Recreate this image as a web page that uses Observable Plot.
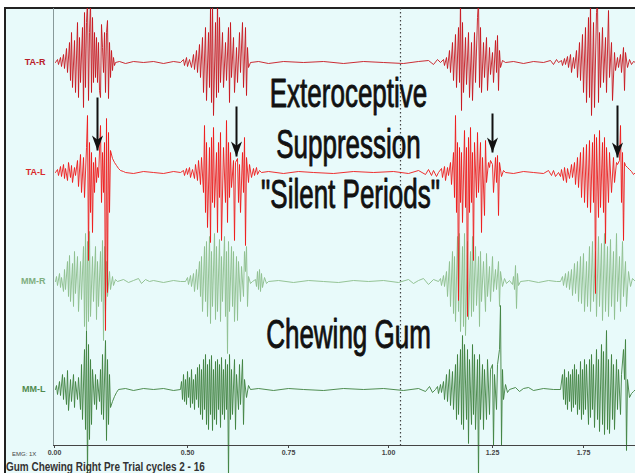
<!DOCTYPE html>
<html>
<head>
<meta charset="utf-8">
<script src="https://cdn.jsdelivr.net/npm/d3@7"></script>
<script src="https://cdn.jsdelivr.net/npm/@observablehq/plot@0.6"></script>
<style>
  html, body { margin: 0; padding: 0; background: #ffffff; width: 635px; height: 473px; overflow: hidden; }
  #frame { position: absolute; left: 4px; top: 7px; width: 631px; height: 466px; background: #e8fafa;
           border-top: 2px solid #222; border-left: 2px solid #222; box-sizing: border-box; }
  #chart { position: absolute; left: 0; top: 0; }
  #emg { position: absolute; left: 12px; top: 451px; font: 6px "Liberation Sans", Arial, sans-serif; color: #444; }
  #caption { position: absolute; left: 6px; top: 460px; font: bold 12px "Liberation Sans", Arial, sans-serif;
             color: #333; white-space: nowrap; transform: scaleX(0.83); transform-origin: left top; }
</style>
</head>
<body>
<div id="frame"></div>
<div id="chart"></div>
<div id="emg">EMG: 1X</div>
<div id="caption">Gum Chewing Right Pre Trial cycles 2 - 16</div>
<script>
// ---- channels (name, vertical offset of baseline in µV-units, colour) ----
const channelNames = ["TA-R", "TA-L", "MM-R", "MM-L"];
const channelOffsets = [383, 273, 164, 56];

// ---- x axis ticks (sample units) and their printed labels ----
const tickPos = [1, 134, 235, 335, 439, 530];
const tickLabels = ["0.00", "0.50", "0.75", "1.00", "1.25", "1.75"];
const cursorPos = [347];

// ---- EMG traces: [sample, amplitude] ----
const TA_R = [
 [2,0],[4,3],[5,-2],[7,5],[8,-4],[10,8],[11,-6],[13,14],[14,-10],[16,20],[17,-18],[18,30],[19,-25],[21,22],[22,-30],[24,40],[25,-35],[26,25],[27,-20],[29,35],[30,-45],[31,50],[32,-25],[33,40],[34,62],[35,-38],[36,30],[37,62],[38,-30],[39,45],[40,-20],[41,30],[42,-15],[43,25],[44,-20],[45,20],[46,-28],[47,-35],[48,38],[49,15],[50,-10],[51,30],[52,-30],[53,30],[54,42],[55,-36],[56,20],[57,-15],[58,12],[59,-8],[60,5],[61,-3],[62,0],
 [66,1],[72,-1],[80,1],[90,0],[100,1],[110,-1],[120,1],[127,0],
 [130,3],[131,-3],[133,5],[134,-4],[136,3],[138,-5],[140,8],[141,-7],[143,12],[144,-10],[146,18],[147,-15],[149,25],[150,-30],[152,35],[153,-38],[155,30],[156,-25],[157,54],[158,-40],[159,62],[160,-53],[162,40],[163,-35],[164,62],[165,-30],[166,45],[167,-20],[169,30],[170,-25],[172,20],[173,-18],[175,35],[176,-40],[177,40],[178,-15],[180,25],[181,-30],[183,15],[184,-20],[186,30],[187,-10],[189,40],[190,-25],[192,35],[193,-33],[194,15],[195,-5],[197,0],
 [205,1],[215,-1],[230,1],[250,0],[270,1],[290,-1],[310,1],[330,0],[350,-1],[365,1],[375,2],[380,-2],[384,3],[387,0],
 [390,3],[391,-3],[393,5],[394,-6],[396,12],[397,-10],[399,20],[400,-18],[402,28],[403,-25],[405,35],[406,-20],[407,62],[408,-48],[409,40],[410,-30],[412,25],[413,-22],[415,30],[416,-35],[418,20],[419,-38],[421,30],[422,-20],[424,45],[425,62],[426,-25],[427,35],[428,-30],[430,20],[431,-15],[433,25],[434,-28],[436,15],[437,-12],[439,10],[440,-20],[442,22],[443,-10],[444,27],[445,-28],[446,12],[447,-5],[449,2],[452,0],
 [460,1],[470,-1],[480,1],[490,0],[497,2],[500,-2],[503,3],[505,0],
 [508,2],[509,-3],[511,4],[512,-2],[514,6],[515,-5],[517,8],[518,-10],[520,5],[521,-6],[523,12],[524,-15],[526,20],[527,-18],[529,28],[530,-30],[532,35],[533,-40],[535,45],[536,-35],[537,62],[538,-53],[540,40],[541,-45],[543,50],[544,62],[545,-40],[546,30],[547,-25],[549,35],[550,-20],[552,25],[553,-30],[555,52],[556,-15],[558,20],[559,-38],[561,10],[562,-8],[564,5],[565,-5],[567,8],[568,-10],[570,15],[571,-28],[572,10],[574,-5],[576,3],[578,-2],[580,1],[582,0]
];
const TA_L = [
 [2,0],[4,3],[5,-3],[7,6],[8,-4],[10,8],[11,-6],[12,4],[14,-8],[15,10],[17,-5],[18,7],[19,-10],[21,5],[22,-3],[24,12],[25,-14],[27,18],[28,-20],[30,15],[31,-25],[33,25],[34,57],[35,-88],[36,30],[37,-40],[38,20],[39,-60],[40,10],[41,-20],[42,15],[43,-10],[44,5],[45,-5],[47,47],[48,-30],[49,20],[50,-20],[51,30],[52,-158],[53,54],[54,-120],[55,40],[56,-40],[57,22],[59,14],[61,10],[63,7],[65,4],[67,2],[70,1],[72,0],
 [80,-1],[90,1],[100,0],[110,-1],[120,1],[127,0],
 [130,2],[131,-3],[133,4],[134,-2],[136,5],[137,-5],[139,3],[141,-6],[142,8],[144,-8],[145,12],[147,-12],[148,15],[150,-20],[151,47],[152,-40],[153,30],[154,-55],[156,25],[157,-70],[158,35],[159,-30],[160,45],[161,-35],[163,20],[164,-60],[165,30],[166,-25],[167,40],[168,-68],[170,25],[172,-30],[173,52],[174,-50],[175,30],[176,-25],[177,20],[178,-15],[180,12],[181,-68],[182,10],[184,14],[185,-30],[186,8],[187,-40],[189,20],[190,-20],[191,35],[192,-73],[193,15],[195,-10],[196,8],[198,-5],[200,4],[201,-3],[203,5],[204,-2],[206,2],[208,0],
 [215,1],[230,-1],[245,1],[260,0],[280,-1],[300,1],[320,0],[340,1],[355,-1],[365,2],[372,-2],[375,3],[378,-3],[380,2],[383,-4],[385,0],
 [388,4],[389,-5],[391,6],[392,-8],[394,5],[395,-3],[397,10],[398,-12],[400,20],[401,-25],[402,57],[403,-40],[404,30],[405,-128],[406,25],[407,-30],[408,20],[409,-50],[411,42],[412,-35],[413,25],[414,-144],[415,35],[416,-40],[417,45],[418,-30],[419,20],[420,-88],[421,30],[423,-25],[424,40],[425,-20],[427,30],[428,-60],[429,15],[431,-43],[432,32],[433,-10],[435,10],[436,5],[437,12],[439,8],[440,-20],[442,15],[443,-10],[444,17],[445,-43],[446,10],[448,-4],[450,2],[452,0],
 [460,-1],[470,1],[480,0],[490,-1],[495,2],[498,-3],[500,2],[502,-4],[505,0],
 [507,-4],[508,3],[510,-8],[511,5],[513,-10],[514,4],[516,-6],[518,8],[519,-5],[521,10],[522,-12],[524,15],[525,-15],[527,20],[528,-25],[530,25],[531,-30],[533,28],[534,-35],[536,32],[537,-40],[539,30],[540,-30],[541,38],[542,-121],[543,35],[545,-45],[546,42],[547,-35],[549,30],[550,-40],[551,35],[552,-71],[553,25],[555,-30],[556,20],[558,-20],[560,15],[561,-10],[563,10],[564,8],[566,12],[567,47],[568,-30],[569,20],[570,-68],[571,10],[572,7],[574,5],[576,3],[578,1],[580,-2],[582,0]
];
const MM_R = [
 [2,0],[3,5],[4,-4],[6,8],[7,-6],[8,4],[10,-10],[11,12],[12,-8],[14,20],[15,-15],[16,26],[17,-20],[19,18],[20,-25],[21,30],[22,-12],[24,25],[25,-30],[27,20],[28,-18],[30,35],[31,-45],[32,48],[33,-49],[34,40],[35,-40],[36,50],[37,-35],[39,25],[40,-20],[42,35],[43,-38],[44,20],[45,-25],[47,30],[48,-20],[49,41],[50,-59],[51,35],[52,-30],[53,20],[54,-15],[56,10],[57,-8],[59,5],[60,-4],[62,2],[64,0],
 [70,2],[75,-1],[80,1],[85,3],[88,-2],[92,2],[96,0],[100,1],[110,-1],[120,1],[127,0],[132,0],
 [134,4],[135,-3],[137,6],[138,-5],[140,8],[141,-10],[143,12],[144,-8],[146,20],[147,-15],[148,25],[149,-30],[151,35],[152,-20],[153,40],[154,-35],[156,45],[157,-42],[158,30],[159,-25],[161,48],[162,-38],[163,35],[164,-30],[166,42],[167,-40],[168,25],[169,-20],[171,45],[172,-35],[173,30],[174,-72],[175,40],[176,-30],[178,35],[179,-25],[180,30],[181,-40],[183,25],[184,-39],[185,20],[187,-20],[188,15],[190,-15],[191,30],[192,10],[193,35],[194,-25],[195,5],[197,-2],[199,0],[202,2],[203,-5],[204,10],[205,-8],[206,12],[207,-10],[208,8],[209,-6],[211,4],[213,-2],[215,0],
 [225,1],[240,-1],[255,1],[270,0],[285,-1],[300,1],[315,0],[330,1],[345,-1],[355,2],[360,-2],[365,1],[370,3],[375,-3],[380,2],[385,0],
 [387,3],[388,-4],[390,6],[391,-5],[393,10],[394,-15],[396,20],[397,-25],[399,30],[400,-32],[401,25],[402,-40],[404,45],[405,-30],[406,48],[407,-50],[409,35],[410,-45],[411,48],[412,-54],[414,40],[415,-38],[417,30],[418,-35],[419,45],[420,-30],[422,35],[423,-24],[425,25],[426,-45],[427,30],[428,-20],[430,20],[432,-30],[433,28],[434,-15],[436,15],[437,-20],[439,25],[440,-10],[442,12],[443,-8],[445,20],[446,-25],[447,10],[449,-5],[451,3],[453,-2],[456,1],[459,-3],[460,5],[461,-8],[462,16],[463,-27],[464,8],[465,-4],[467,0],
 [475,1],[485,-1],[495,1],[503,0],[507,0],
 [509,5],[510,-4],[512,8],[513,-6],[515,10],[516,-8],[518,12],[519,-14],[521,18],[522,-12],[524,20],[525,-20],[527,25],[528,-22],[530,28],[531,-30],[533,20],[534,-25],[536,35],[537,-30],[539,40],[540,-20],[542,30],[543,-35],[545,45],[546,-25],[548,38],[549,-39],[551,48],[552,-30],[554,35],[555,-35],[557,42],[558,-25],[560,30],[561,-38],[563,48],[564,-20],[566,25],[567,-30],[569,40],[570,-15],[572,20],[573,-25],[575,10],[577,-5],[579,3],[582,0]
];
const MM_L = [
 [2,0],[3,4],[4,-5],[6,8],[7,-6],[9,15],[10,-10],[11,12],[13,-15],[14,19],[15,-21],[17,10],[18,-12],[20,15],[21,-18],[22,8],[24,-10],[25,12],[27,-20],[28,25],[29,-30],[31,40],[32,-40],[33,59],[34,-90],[35,45],[36,-50],[37,30],[38,-35],[39,20],[41,-15],[42,15],[43,-20],[44,10],[46,-12],[47,20],[48,-25],[49,35],[50,-30],[52,49],[53,-51],[54,30],[55,-35],[56,15],[57,-18],[59,-12],[61,-7],[63,-3],[65,0],
 [72,1],[80,-1],[90,1],[100,0],[110,1],[120,-1],[127,0],
 [128,8],[129,-10],[130,15],[131,-12],[132,10],[133,-15],[134,18],[135,-8],[136,12],[137,-18],[138,20],[139,-14],[140,10],[141,-20],[142,15],[143,-10],[144,22],[145,-18],[146,25],[147,-25],[148,20],[149,-30],[150,30],[151,-20],[152,35],[153,-35],[154,25],[155,-40],[156,30],[157,-25],[158,34],[159,-41],[160,20],[161,-30],[162,28],[163,-35],[164,30],[165,-20],[166,25],[167,-38],[168,32],[169,-25],[170,20],[171,-30],[172,30],[173,-20],[174,25],[175,-90],[176,35],[177,-30],[178,20],[179,-25],[181,30],[182,-40],[183,15],[185,-20],[186,25],[187,-15],[189,30],[190,-35],[191,10],[193,-8],[195,4],[197,0],
 [205,1],[220,-1],[235,1],[250,0],[270,-1],[290,1],[310,0],[330,1],[350,-1],[365,1],[372,-2],[376,3],[379,-3],[382,0],
 [384,3],[385,-4],[387,5],[388,-3],[390,8],[391,-10],[393,15],[394,-12],[396,20],[397,-16],[399,18],[400,-20],[402,25],[403,-30],[404,35],[405,-25],[407,40],[408,-35],[409,54],[410,-40],[411,45],[413,-30],[414,40],[415,-54],[416,30],[418,-35],[419,45],[420,-25],[421,35],[422,-40],[424,30],[425,-90],[426,35],[427,-30],[429,25],[430,-40],[431,20],[433,-30],[434,30],[436,-25],[437,20],[439,25],[440,-56],[441,15],[443,-20],[444,25],[446,40],[447,84],[448,-56],[449,20],[450,-10],[452,5],[454,-3],[456,0],
 [462,2],[466,-2],[470,1],[475,2],[480,-1],[490,1],[500,0],[507,0],
 [509,15],[510,-10],[511,20],[512,-15],[513,12],[514,-20],[515,18],[516,-12],[517,15],[518,-22],[519,20],[520,-18],[521,25],[522,-15],[523,20],[524,-25],[525,15],[526,-20],[527,28],[528,-30],[529,20],[530,-25],[531,30],[532,-20],[533,25],[535,-35],[536,30],[537,-28],[538,35],[539,-20],[540,25],[541,-38],[543,40],[544,-30],[545,30],[546,-42],[548,45],[549,-35],[550,38],[551,-45],[553,59],[554,-40],[555,30],[556,-44],[558,35],[559,-30],[560,25],[561,-40],[563,30],[564,-20],[565,20],[567,-25],[568,15],[570,40],[571,10],[572,50],[573,-61],[574,10],[576,-8],[578,-4],[580,-2],[582,0]
];

// ---- annotations ----
const noteLabels = ["Exteroceptive", "Suppression", "\"Silent Periods\"", "Chewing Gum"];
const noteX = [295, 295, 297, 295];
const noteY = [351, 300, 250, 110];

// ---- silent-period arrows: sample, shaft top, tip ----
const arrowX = [44, 183, 439, 564];
const arrowTop = [348, 339, 332, 340];
const arrowTip = [295, 289, 293, 288];

// build tables
const traces = [TA_R, TA_L, MM_R, MM_L];
const series = traces.map((tr, k) => tr.map(([t, a]) => ({t, v: channelOffsets[k] + a, ch: channelNames[k]})));
const labels = channelNames.map((name, k) => ({name, y: channelOffsets[k]}));
const notes = noteLabels.map((label, i) => ({label, x: noteX[i], y: noteY[i]}));
const arrows = arrowX.map((x, i) => ({x, top: arrowTop[i], tip: arrowTip[i]}));
const labelOf = new Map(tickPos.map((p, i) => [p, tickLabels[i]]));

const colors = {"TA-R": "#c8161e", "TA-L": "#ee1a1a", "MM-R": "#8fc08f", "MM-L": "#3f823f"};
const labelColors = {"TA-R": "#b8202a", "TA-L": "#d82a2a", "MM-R": "#7fae7f", "MM-L": "#4f8a4f"};

const arrowHead = {
  draw(context, size) {
    const r = Math.sqrt(size / Math.PI);
    const h = r * 2.3, w = r * 0.85;
    context.moveTo(0, 0);
    context.lineTo(-w, -h);
    context.lineTo(0, -h * 0.72);
    context.lineTo(w, -h);
    context.closePath();
  }
};

const chart = Plot.plot({
  width: 635,
  height: 460,
  marginLeft: 53,
  marginRight: 0,
  marginTop: 8,
  marginBottom: 15,
  style: {background: "transparent", overflow: "visible", fontFamily: "'Liberation Sans', Arial, sans-serif"},
  x: {domain: [0, 582], axis: null},
  y: {domain: [0, 437], axis: null},
  marks: [
    Plot.ruleX(cursorPos, {stroke: "#444", strokeDasharray: "1.5,2.5", strokeWidth: 1.2}),
    Plot.ruleX([0], {stroke: "#889999", strokeWidth: 1}),
    Plot.line(series[3], {x: "t", y: "v", stroke: colors["MM-L"], strokeWidth: 1, strokeOpacity: 0.9}),
    Plot.line(series[2], {x: "t", y: "v", stroke: colors["MM-R"], strokeWidth: 1, strokeOpacity: 0.95}),
    Plot.line(series[0], {x: "t", y: "v", stroke: colors["TA-R"], strokeWidth: 1, strokeOpacity: 0.9, clip: true}),
    Plot.line(series[1], {x: "t", y: "v", stroke: colors["TA-L"], strokeWidth: 1, strokeOpacity: 0.9, clip: true}),
    Plot.ruleY([0], {stroke: "#444", strokeWidth: 1}),
    Plot.axisX({ticks: tickPos, tickFormat: d => labelOf.get(d), tickSize: 3, tickPadding: 2,
                fontSize: 7, fontWeight: "bold", stroke: "#444", fill: "#444"}),
    Plot.text(labels, {x: 0, y: "y", text: "name", textAnchor: "end", dx: -8, fontSize: 9, fontWeight: "bold",
                       fill: d => labelColors[d.name]}),
    Plot.link(arrows, {x1: "x", x2: "x", y1: "top", y2: "tip", stroke: "#111", strokeWidth: 2}),
    Plot.dot(arrows, {x: "x", y: "tip", symbol: arrowHead, r: 6.5, fill: "#111", stroke: "none"}),
    Plot.text(notes, {x: "x", y: "y", text: "label", fontSize: 40, fill: "#111", stroke: "#111", strokeWidth: 0.9,
                      fontFamily: "'Liberation Sans', Arial, sans-serif"})
  ]
});

document.getElementById("chart").appendChild(chart);
// horizontally condense the large annotation text (narrow typeface look)
chart.querySelectorAll("text").forEach(el => {
  if (noteLabels.includes(el.textContent)) {
    const tr = el.getAttribute("transform") || "";
    el.setAttribute("transform", tr + " scale(0.65,1)");
  }
});
</script>
</body>
</html>
